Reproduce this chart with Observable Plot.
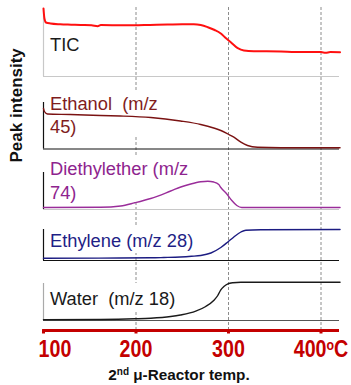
<!DOCTYPE html>
<html>
<head>
<meta charset="utf-8">
<script src="https://cdn.jsdelivr.net/npm/d3@7"></script>
<script src="https://cdn.jsdelivr.net/npm/@observablehq/plot@0.6"></script>
<style>
  html, body { margin: 0; padding: 0; background: #fff; }
  #chart { width: 351px; }
  #caption { width: 351px; height: 22px; line-height: 23px; text-align: center; padding-left: 7px; box-sizing: border-box;
    font-family: "Liberation Sans", Arial, sans-serif; font-weight: bold; font-size: 15.3px; color: #111; }
  #caption sup { font-size: 10px; line-height: 0; vertical-align: 5px; }
</style>
</head>
<body>
<div id="chart"></div>
<div id="caption">2<sup>nd</sup> μ-Reactor temp.</div>
<script>
// ---------- data (temperature °C, peak intensity a.u.) ----------
const ticT = [100, 101, 102.7, 107.6, 118, 130, 140, 152, 158.5, 162, 180, 197.5, 215, 234, 250, 262.5, 270, 277.6, 285, 291.7, 297, 302.5, 310, 316.6, 327.4, 340, 356.7, 372, 389, 400, 405, 410, 420.6];
const ticI = [68, 58, 54, 53, 52.2, 51.8, 51.5, 51.2, 50.3, 51.4, 51.3, 51.2, 51.6, 52, 52.2, 52.3, 51.5, 49.3, 46.5, 43, 38.5, 34.3, 28.3, 26, 25.3, 25.2, 25, 24.6, 24.5, 24.4, 23.8, 24.4, 24.3];

const ethanolT = [100, 101, 104.3, 129, 161.7, 183, 216, 248, 270, 284, 291.7, 299.3, 305.8, 313.4, 320.6, 331.4, 356.7, 420.6];
const ethanolI = [40.5, 37.5, 35, 34.5, 33.5, 33, 31.5, 28, 24.5, 21, 18.5, 15, 11.8, 6.8, 3.5, 1.8, 1.3, 1.2];

const etherT = [100, 161.7, 183.4, 198.6, 215.9, 237.5, 248.4, 259.2, 270, 277.6, 284.1, 289.5, 291.7, 298.2, 303.6, 309, 314.4, 324.2, 420.6];
const etherI = [2, 2.2, 3.5, 6.7, 11, 18.5, 22.5, 25.5, 27.7, 28.3, 27.5, 25, 22, 15.5, 9, 4, 2, 2, 2];

const ethyleneT = [100, 160, 216, 230, 248, 260, 270, 281, 291.7, 299.3, 305.8, 313.4, 318.8, 335, 420.6];
const ethyleneI = [2.3, 2.4, 2.7, 3.0, 3.5, 4.2, 5, 7.5, 13, 18.5, 23.5, 28.5, 30.3, 30.7, 31];

const waterT = [100, 161.7, 198.6, 216, 237.5, 248, 264.6, 275.4, 284, 288.4, 291.7, 295, 299.3, 304.7, 313.4, 420.6];
const waterI = [0.7, 1, 1.7, 2.3, 4, 5.5, 9.3, 14, 20, 25, 30.7, 34, 36.7, 37.8, 38.3, 38.3];

const seriesNames = ["TIC", "Ethanol", "Diethylether", "Ethylene", "Water"];
const seriesLabels = ["TIC", "Ethanol  (m/z\n45)", "Diethylether (m/z\n74)", "Ethylene (m/z 28)", "Water  (m/z 18)"];
const tickValues = [100, 200, 300, 400];
const tickLabels = ["100", "200", "300", "400°C"];
const yLabel = "Peak intensity";

// ---------- layout / styles (stacked panel offsets) ----------
const panels = [
  {name: "TIC",          base: 254,   top: 322, left: "#c8c8c8", bottom: "#c8c8c8", color: "#ff1010", label: "#1a1a1a", width: 2,   ly: 33,  lines: 1, boxEnd: 140},
  {name: "Ethanol",      base: 181.5, top: 228, left: "#111",    bottom: "#111",    color: "#7a1212", label: "#7f1d1d", width: 1.4, ly: 35,  lines: 2, boxEnd: 230},
  {name: "Diethylether", base: 121,   top: 158, left: "#111",    bottom: "#c8c8c8", color: "#9a2d9a", label: "#8e248e", width: 1.4, ly: 30,  lines: 2, boxEnd: 263},
  {name: "Ethylene",     base: 70,    top: 101, left: "#111",    bottom: "#111",    color: "#1c1c82", label: "#1f1f86", width: 1.4, ly: 21,  lines: 1, boxEnd: 270},
  {name: "Water",        base: 10,    top: 47,  left: "#aaaaaa", bottom: "#555555", color: "#1a1a1a", label: "#1a1a1a", width: 1.4, ly: 23,  lines: 1, boxEnd: 253}
];
const seriesData = {
  TIC: [ticT, ticI], Ethanol: [ethanolT, ethanolI], Diethylether: [etherT, etherI],
  Ethylene: [ethyleneT, ethyleneI], Water: [waterT, waterI]
};

const rows = [];
panels.forEach(p => {
  const [T, I] = seriesData[p.name];
  T.forEach((t, i) => rows.push({series: p.name, T: t, y: p.base + I[i]}));
});
const labels = panels.map((p, i) => ({
  text: seriesLabels[i], color: p.label, x: 107, y: p.base + p.ly,
  h: p.lines === 2 ? 47 : 28, boxEnd: p.boxEnd
}));
const ticks = tickValues.map((v, i) => ({v, label: tickLabels[i]}));

const font = "'Liberation Sans', Arial, sans-serif";
const red = "#c40000";

const lineMarks = panels.map(p => Plot.line(rows.filter(r => r.series === p.name), {
  x: "T", y: "y", stroke: p.color, strokeWidth: p.width, curve: "monotone-x"
}));
const tickStyle = {y: 0, dy: 19, text: "label", fill: red, fontSize: 24, fontWeight: "bold",
  fontFamily: font, lineAnchor: "middle", className: "xtick"};

const chart = Plot.plot({
  width: 351, height: 363,
  marginLeft: 43, marginRight: 12, marginTop: 0, marginBottom: 33,
  x: {domain: [100, 420], axis: null},
  y: {domain: [0, 330], axis: null},
  style: {fontFamily: font, background: "#fff", overflow: "visible"},
  marks: [
    Plot.ruleX([200, 300, 400], {y1: 0, y2: 323, stroke: "#8c8c8c", strokeWidth: 1, strokeDasharray: "3,2"}),
    Plot.rect(labels.slice(1), {x1: 104, x2: "boxEnd", y1: d => d.y - d.h / 2, y2: d => d.y + d.h / 2, fill: "#fff"}),
    Plot.ruleY(panels, {y: "base", x1: 100, x2: 420, stroke: "bottom", strokeWidth: 1.2}),
    Plot.ruleX(panels, {x: 100, y1: "base", y2: "top", stroke: "left", strokeWidth: 1.2}),
    ...lineMarks,
    Plot.text(labels, {x: "x", y: "y", text: "text", fill: "color", textAnchor: "start", lineAnchor: "middle",
      lineHeight: 1.28, fontSize: 18.3, fontFamily: font}),
    Plot.text([yLabel], {frameAnchor: "left", y: 168, dx: -27, rotate: -90, fontSize: 17, fontWeight: "bold",
      fill: "#111", fontFamily: font}),
    // x axis
    Plot.ruleY([0], {x1: 99, x2: 420, stroke: red, strokeWidth: 3}),
    Plot.ruleX(tickValues, {y1: -3.5, y2: 0, stroke: red, strokeWidth: 3}),
    Plot.text(ticks.slice(0, 1), {...tickStyle, x: "v", dx: -5, textAnchor: "start"}),
    Plot.text(ticks.slice(1), {...tickStyle, x: "v", textAnchor: "middle"})
  ]
});
const ns = "http://www.w3.org/2000/svg";
// condensed bold tick labels + superscript "o" in 400°C
chart.querySelectorAll("g.xtick text").forEach(t => {
  const tr = t.getAttribute("transform") || "";
  t.setAttribute("transform", tr + " scale(0.82,1)");
  if (t.textContent === "400°C") {
    t.textContent = "";
    const a = document.createElementNS(ns, "tspan"); a.textContent = "400";
    const b = document.createElementNS(ns, "tspan"); b.textContent = "o"; b.setAttribute("font-size", "15"); b.setAttribute("dy", "-0.45em");
    const c = document.createElementNS(ns, "tspan"); c.textContent = "C"; c.setAttribute("font-size", "24"); c.setAttribute("dy", "6.75");
    t.append(a, b, c);
  }
});
document.getElementById("chart").appendChild(chart);
</script>
</body>
</html>
